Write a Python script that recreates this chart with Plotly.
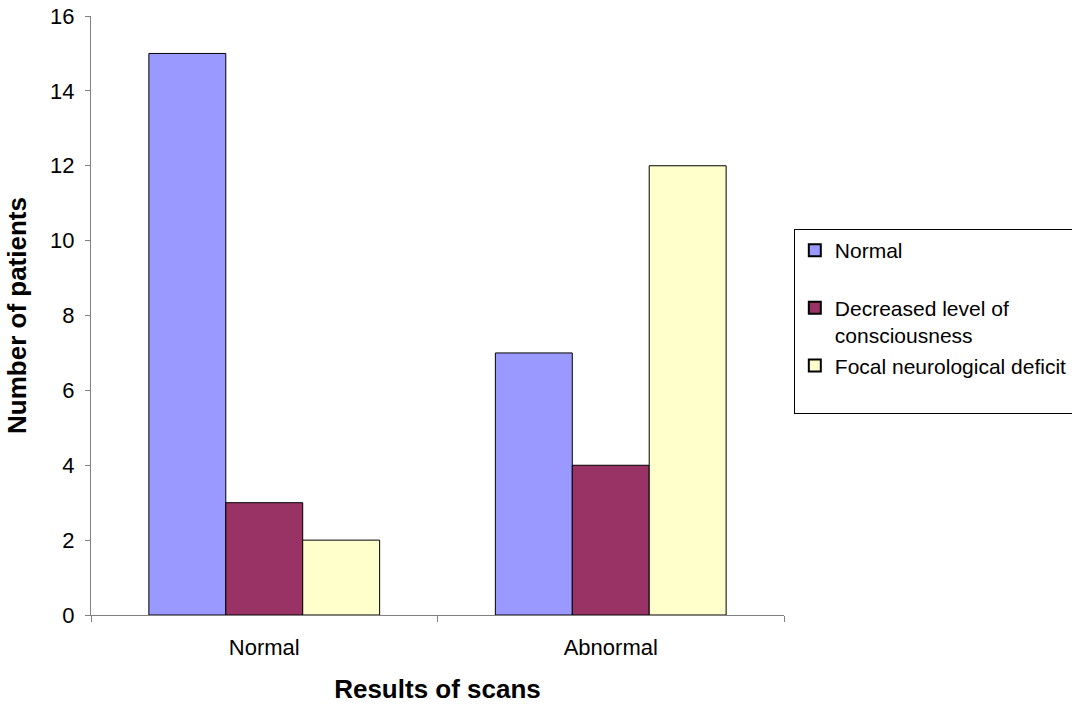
import plotly.graph_objects as go

categories = ["Normal", "Abnormal"]
series_names = ["Normal<br> ", "Decreased level of<br>consciousness", "Focal neurological deficit<br> "]
normal_vals = [15, 7]
decreased_vals = [3, 4]
focal_vals = [2, 12]
colors = ["#9999FF", "#993366", "#FFFFCC"]

fig = go.Figure()
for i, (name, vals, col) in enumerate(zip(series_names, [normal_vals, decreased_vals, focal_vals], colors)):
    fig.add_trace(go.Bar(
        x=categories, y=vals, name=name,
        marker=dict(color=col, line=dict(color="black", width=1)),
        legendgroup=f"g{i}",
    ))

fig.update_layout(
    width=1072, height=706,
    paper_bgcolor="white", plot_bgcolor="white",
    margin=dict(l=91, r=288, t=16, b=91, autoexpand=False),
    barmode="group", bargap=0.334, bargroupgap=0,
    font=dict(family="Liberation Sans, Arial, sans-serif", size=22, color="black"),
    showlegend=True,
    legend=dict(
        xref="container", yref="container",
        x=0.7405, xanchor="left", y=0.6756, yanchor="top",
        bordercolor="black", borderwidth=1, bgcolor="white",
        font=dict(size=21), valign="top", tracegroupgap=0,
        traceorder="normal", itemsizing="constant",
    ),
    xaxis=dict(
        showline=True, linecolor="#808080", linewidth=1,
        ticks="outside", tickson="boundaries", ticklen=6, tickcolor="#808080",
        showgrid=False, ticklabelstandoff=13, automargin=False,
        title=dict(text="<b>Results of scans</b>", font=dict(size=26), standoff=20),
    ),
    yaxis=dict(
        range=[0, 16], dtick=2, showline=True, linecolor="#808080", linewidth=1,
        ticks="outside", ticklen=5, tickcolor="#808080", showgrid=False,
        zeroline=False, ticklabelstandoff=6, ticklabeloverflow="allow",
        automargin=False,
        title=dict(text="<b>Number of patients</b>", font=dict(size=26), standoff=16),
    ),
)

fig.write_html(
    "out.html",
    config={"displayModeBar": False},
    post_script="document.body.style.margin='0';document.body.style.overflow='hidden';",
)
